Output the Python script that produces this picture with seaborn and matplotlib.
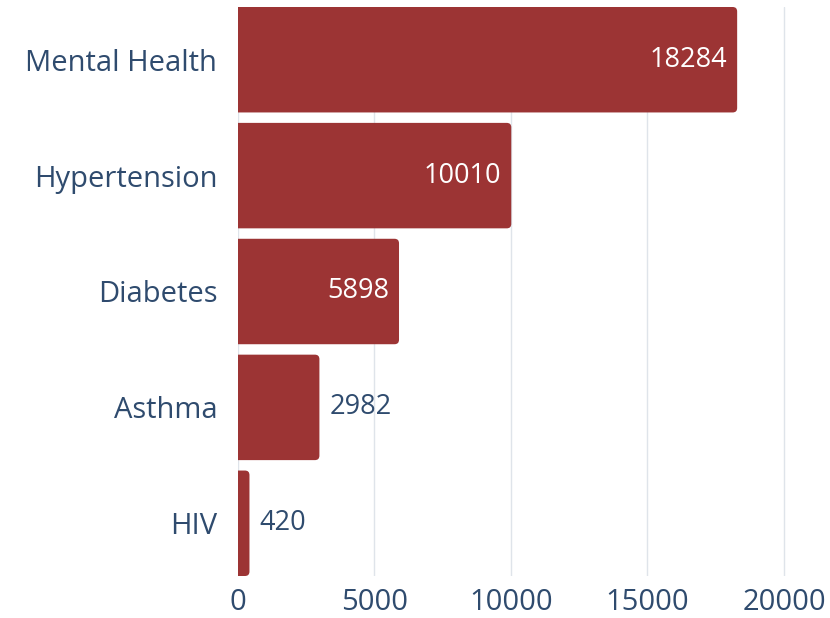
import matplotlib
matplotlib.use("Agg")
import matplotlib.pyplot as plt
from matplotlib.patches import FancyBboxPatch
import seaborn as sns
import pandas as pd

conditions = ["Mental Health", "Hypertension", "Diabetes", "Asthma", "HIV"]
counts = [18284, 10010, 5898, 2982, 420]
xticks = [0, 5000, 10000, 15000, 20000]

bar_color = "#9c3434"
text_color = "#2f4b6e"
grid_color = "#dfe4ea"

sns.set_style("white")
plt.rcParams["font.family"] = ["Open Sans", "DejaVu Sans"]

df = pd.DataFrame({"condition": conditions, "count": counts})

fig = plt.figure(figsize=(8.3, 6.18), dpi=100)
ax = fig.add_axes([238 / 830, 1 - 576 / 618, 1 - 238 / 830, (576 - 7) / 618])
sns.barplot(data=df, x="count", y="condition", orient="h", color=bar_color,
            width=0.91, saturation=1, ax=ax)

xmax = 21685
ax.set_xlim(0, xmax)
ax.set_ylim(4.455, -0.455)

# swap the plain bars for ones rounded at the right end
# (the left end is pushed past x=0 and clipped by the axes)
px_x = xmax / (830 - 238)
px_y = 4.91 / (576 - 7)
r = 4.5 * px_x
for p in list(ax.patches):
    x0, y0 = p.get_x(), p.get_y()
    w, h = p.get_width(), p.get_height()
    p.remove()
    ax.add_patch(FancyBboxPatch((x0 - 3 * r, y0), w + 3 * r, h,
                                boxstyle=f"round,pad=0,rounding_size={r}",
                                mutation_aspect=px_y / px_x,
                                fc=bar_color, ec="none", zorder=2))

for i, v in enumerate(counts):
    if v > 5000:
        ax.text(v - 10 * px_x, i, str(v), ha="right", va="center",
                color="white", fontsize=19.5, zorder=3)
    else:
        ax.text(v + 10 * px_x, i, str(v), ha="left", va="center",
                color=text_color, fontsize=19.5, zorder=3)

ax.set_xticks(xticks)
ax.xaxis.grid(True, color=grid_color, linewidth=1)
ax.set_axisbelow(True)
for s in ["top", "right", "bottom", "left"]:
    ax.spines[s].set_visible(False)
ax.tick_params(axis="both", length=0, labelsize=21, labelcolor=text_color)
ax.tick_params(axis="y", pad=15)
ax.tick_params(axis="x", pad=9)
ax.set_xlabel("")
ax.set_ylabel("")

fig.savefig("out.png", dpi=100)
